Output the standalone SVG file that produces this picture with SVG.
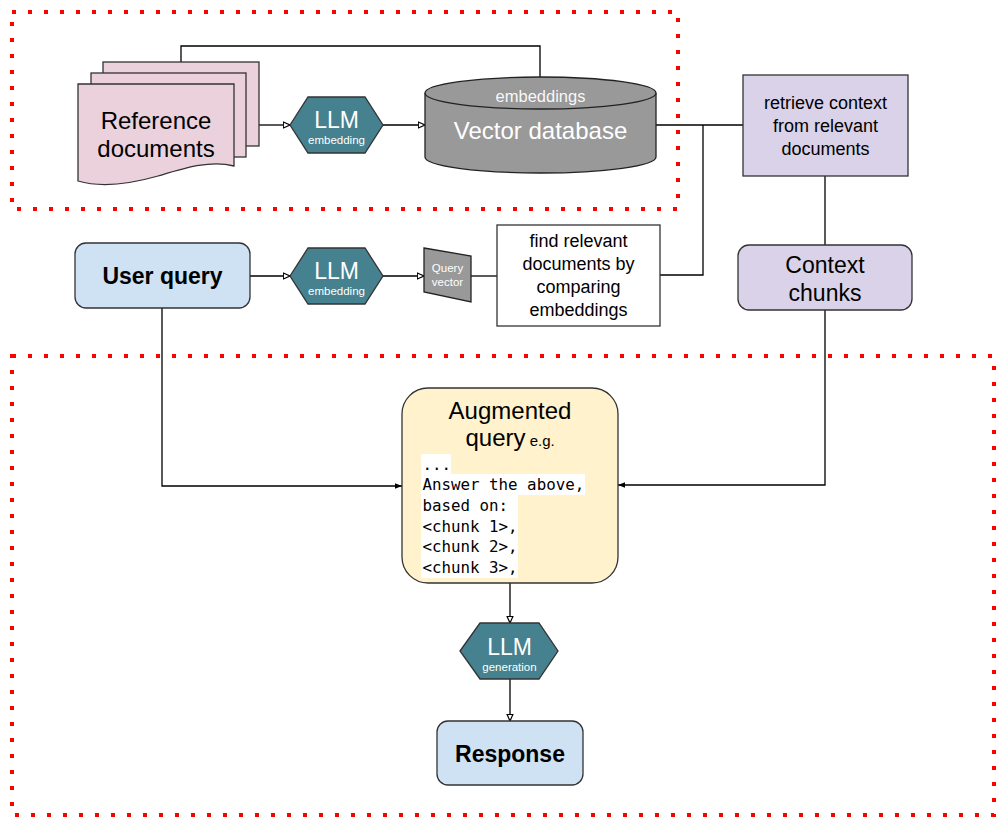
<svg xmlns="http://www.w3.org/2000/svg" width="996" height="817" viewBox="0 0 996 817">
  <defs>
    <marker id="open" markerUnits="userSpaceOnUse" viewBox="0 0 8 8" refX="7.5" refY="4" markerWidth="8" markerHeight="8" orient="auto">
      <path d="M0.8,1 L7.5,4 L0.8,7 Z" fill="#fff" stroke="#000" stroke-width="1.2"/>
    </marker>
    <marker id="solid" markerUnits="userSpaceOnUse" viewBox="0 0 8 8" refX="7.5" refY="4" markerWidth="8" markerHeight="8" orient="auto">
      <path d="M0.5,1.2 L7.5,4 L0.5,6.8 Z" fill="#000"/>
    </marker>
    <style>
      .sans { font-family: "Liberation Sans", Arial, sans-serif; }
      .mono { font-family: "DejaVu Sans Mono", "Liberation Mono", monospace; font-size: 15.8px; fill: #000; }
      .edge { fill: none; stroke: #000; stroke-width: 1.3; }
      .frame { fill: none; stroke: #ff0000; stroke-width: 4; stroke-dasharray: 4 12; }
      .hex { fill: #45818e; stroke: #333; stroke-width: 1.3; }
      .gray { fill: #999999; stroke: #222; stroke-width: 1.3; }
      .doc { fill: #ead1dc; stroke: #333; stroke-width: 1.3; }
      .blue { fill: #cfe2f3; stroke: #333; stroke-width: 1.3; }
      .lav { fill: #d9d2e9; stroke: #333; stroke-width: 1.3; }
      .plain { fill: #fff; stroke: #333; stroke-width: 1.3; }
      .yellow { fill: #fff2cc; stroke: #333; stroke-width: 1.3; }
      .w { fill: #fff; text-anchor: middle; }
      .k { fill: #000; text-anchor: middle; }
      .hl { fill: #fff; }
    </style>
  </defs>

  <!-- dotted grouping frames -->
  <rect class="frame" x="12" y="12" width="666" height="197"/>
  <rect class="frame" x="12" y="356" width="982" height="459"/>

  <!-- connectors -->
  <g id="connectors">
    <path class="edge" d="M181,62 V46 H540 V78"/>
    <path class="edge" d="M259,125 H290" marker-end="url(#open)"/>
    <path class="edge" d="M383,125 H425" marker-end="url(#open)"/>
    <path class="edge" d="M656,125 H743"/>
    <path class="edge" d="M660,275 H703 V125"/>
    <path class="edge" d="M825,176 V245"/>
    <path class="edge" d="M825,310 V485 H618" marker-end="url(#solid)"/>
    <path class="edge" d="M250,276 H290" marker-end="url(#open)"/>
    <path class="edge" d="M383,276 H424" marker-end="url(#open)"/>
    <path class="edge" d="M471,276 H497"/>
    <path class="edge" d="M162,308 V486 H402" marker-end="url(#solid)"/>
    <path class="edge" d="M510,583 V623" marker-end="url(#open)"/>
    <path class="edge" d="M510,679 V721" marker-end="url(#open)"/>
  </g>

  <!-- stacked reference documents -->
  <g id="reference-documents">
    <rect class="doc" x="103" y="62" width="156" height="84"/>
    <rect class="doc" x="91" y="73" width="155" height="84"/>
    <path class="doc" d="M78,84 H234 V166 C210,160 185,168 158,176 C130,184 102,188 78,181 Z"/>
    <text class="sans k" x="156" y="129" font-size="24">Reference</text>
    <text class="sans k" x="156" y="157" font-size="24">documents</text>
  </g>

  <!-- LLM embedding (documents) -->
  <g id="llm-embed-docs">
    <polygon class="hex" points="290,125 308,97 365,97 383,125 365,153 308,153"/>
    <text class="sans w" x="336.5" y="128" font-size="23">LLM</text>
    <text class="sans w" x="336.5" y="144" font-size="11.5">embedding</text>
  </g>

  <!-- vector database -->
  <g id="vector-database">
    <path class="gray" d="M425,93 V157 A115.5,16 0 0 0 656,157 V93"/>
    <ellipse class="gray" cx="540.5" cy="93" rx="115.5" ry="16"/>
    <text class="sans w" x="540.5" y="102" font-size="16.5" fill-opacity="0.95">embeddings</text>
    <text class="sans w" x="540.5" y="139" font-size="24">Vector database</text>
  </g>

  <!-- retrieve context -->
  <g id="retrieve-context">
    <rect class="lav" x="743" y="75" width="165" height="101"/>
    <text class="sans k" x="825.5" y="109" font-size="18" fill="#111">retrieve context</text>
    <text class="sans k" x="825.5" y="132" font-size="18">from relevant</text>
    <text class="sans k" x="825.5" y="155" font-size="18">documents</text>
  </g>

  <!-- user query -->
  <g id="user-query">
    <rect class="blue" x="75" y="243" width="175" height="65" rx="11"/>
    <text class="sans k" x="162.5" y="284" font-size="23" font-weight="bold">User query</text>
  </g>

  <!-- LLM embedding (query) -->
  <g id="llm-embed-query">
    <polygon class="hex" points="290,276 308,248 365,248 383,276 365,304 308,304"/>
    <text class="sans w" x="336.5" y="279" font-size="23">LLM</text>
    <text class="sans w" x="336.5" y="295" font-size="11.5">embedding</text>
  </g>

  <!-- query vector -->
  <g id="query-vector">
    <polygon class="gray" points="424,248 471,256 471,302 424,292"/>
    <text class="sans w" x="447.5" y="272" font-size="11.5" fill="#eee">Query</text>
    <text class="sans w" x="447.5" y="286" font-size="11.5" fill="#eee">vector</text>
  </g>

  <!-- find relevant documents -->
  <g id="find-relevant">
    <rect class="plain" x="497" y="225" width="163" height="101"/>
    <text class="sans k" x="578.5" y="247" font-size="18">find relevant</text>
    <text class="sans k" x="578.5" y="270" font-size="18">documents by</text>
    <text class="sans k" x="578.5" y="293" font-size="18">comparing</text>
    <text class="sans k" x="578.5" y="316" font-size="18">embeddings</text>
  </g>

  <!-- context chunks -->
  <g id="context-chunks">
    <rect class="lav" x="738" y="245" width="174" height="65" rx="11"/>
    <text class="sans k" x="825" y="273" font-size="23">Context</text>
    <text class="sans k" x="825" y="301" font-size="23">chunks</text>
  </g>

  <!-- augmented query -->
  <g id="augmented-query">
    <rect class="yellow" x="402" y="388" width="216" height="195" rx="26"/>
    <text class="sans k" x="510" y="419" font-size="24">Augmented</text>
    <text class="sans" x="465.5" y="446" font-size="24" fill="#000">query<tspan font-size="15"> e.g.</tspan></text>
    <rect class="hl" x="421" y="454" width="30" height="21"/>
    <rect class="hl" x="421" y="474" width="164" height="21"/>
    <rect class="hl" x="421" y="494" width="97" height="84"/>
    <text class="mono" x="422.5" y="470">...</text>
    <text class="mono" x="422.5" y="490">Answer the above,</text>
    <text class="mono" x="422.5" y="511">based on:</text>
    <text class="mono" x="422.5" y="532">&lt;chunk 1&gt;,</text>
    <text class="mono" x="422.5" y="552">&lt;chunk 2&gt;,</text>
    <text class="mono" x="422.5" y="573">&lt;chunk 3&gt;,</text>
  </g>

  <!-- LLM generation -->
  <g id="llm-generation">
    <polygon class="hex" points="460,651 480,623 539,623 558,651 539,679 480,679"/>
    <text class="sans w" x="509.5" y="655" font-size="23">LLM</text>
    <text class="sans w" x="509.5" y="671" font-size="11.5">generation</text>
  </g>

  <!-- response -->
  <g id="response">
    <rect class="blue" x="437" y="721" width="146" height="64" rx="11"/>
    <text class="sans k" x="510" y="762" font-size="23" font-weight="bold">Response</text>
  </g>
</svg>
